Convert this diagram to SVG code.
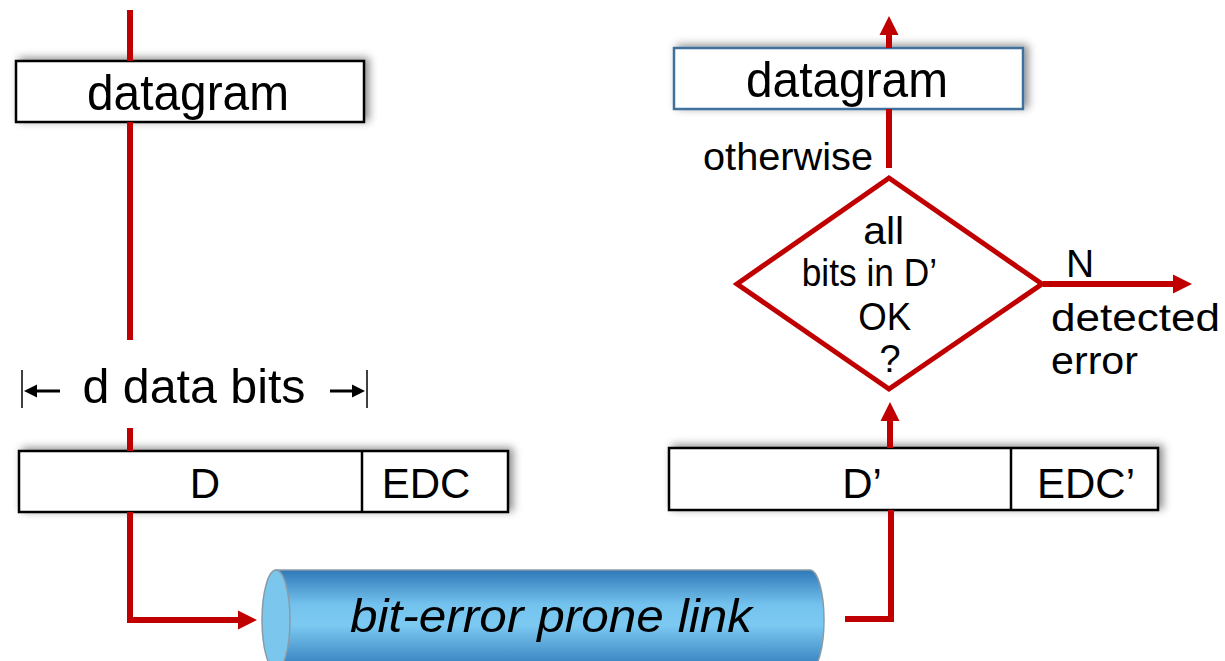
<svg xmlns="http://www.w3.org/2000/svg" width="1225" height="661" viewBox="0 0 1225 661">
<style>
text{font-family:"Liberation Sans",Arial,sans-serif;fill:#000}
.box{fill:#fff;stroke:#000;stroke-width:2.5}
.wire{fill:none;stroke:#C00000;stroke-width:6}
.dim{fill:none;stroke:#000;stroke-width:3}
.tick{fill:none;stroke:#000;stroke-width:1.5}
</style>
<defs>
<filter id="sh" x="-10%" y="-40%" width="125%" height="180%">
<feDropShadow dx="4" dy="-2" stdDeviation="4" flood-color="#000" flood-opacity="0.45"/>
</filter>
<marker id="ah" markerUnits="userSpaceOnUse" markerWidth="20" markerHeight="20" viewBox="0 -10 20 20" refX="0" refY="0" orient="auto">
<path d="M0,-9.5 L19,0 L0,9.5 Z" fill="#C00000"/>
</marker>
<marker id="bh" markerUnits="userSpaceOnUse" markerWidth="14" markerHeight="14" viewBox="0 -7 14 14" refX="0" refY="0" orient="auto">
<path d="M0,-6.5 L13,0 L0,6.5 Z" fill="#000"/>
</marker>
<linearGradient id="cyl" x1="0" y1="0" x2="0" y2="1">
<stop offset="0" stop-color="#2F78B8"/>
<stop offset="0.35" stop-color="#74C3EE"/>
<stop offset="0.55" stop-color="#7CCAF2"/>
<stop offset="1" stop-color="#2F78B8"/>
</linearGradient>
</defs>

<g id="datagram-send">
<rect class="box" x="16" y="61" width="348" height="61" filter="url(#sh)"/>
<text x="188" y="110" font-size="50" text-anchor="middle" textLength="202" lengthAdjust="spacingAndGlyphs">datagram</text>
</g>

<g id="d-data-bits">
<line class="tick" x1="22" y1="370" x2="22" y2="408"/>
<line class="tick" x1="367" y1="370" x2="367" y2="408"/>
<line class="dim" x1="60" y1="391" x2="37" y2="391" marker-end="url(#bh)"/>
<line class="dim" x1="330" y1="391" x2="352" y2="391" marker-end="url(#bh)"/>
<text x="194" y="403" font-size="48" text-anchor="middle" textLength="223" lengthAdjust="spacingAndGlyphs">d data bits</text>
</g>

<g id="frame-send">
<rect class="box" x="19" y="451" width="489" height="61" filter="url(#sh)"/>
<line x1="362" y1="451" x2="362" y2="512" stroke="#000" stroke-width="2.5"/>
<text x="205" y="498" font-size="42" text-anchor="middle">D</text>
<text x="426" y="498" font-size="42" text-anchor="middle">EDC</text>
</g>

<g id="link">
<path d="M276,570 H810 A14,50 0 0 1 810,670 H276 Z" fill="url(#cyl)" stroke="#8A9BA8" stroke-width="1.5"/>
<ellipse cx="276" cy="620" rx="14" ry="50" fill="#7AC6EC" stroke="#8A9BA8" stroke-width="1.5"/>
<text x="551" y="632" font-size="47" font-style="italic" text-anchor="middle" textLength="402" lengthAdjust="spacingAndGlyphs">bit-error prone link</text>
</g>

<g id="frame-recv">
<rect class="box" x="669" y="448" width="489" height="62" filter="url(#sh)"/>
<line x1="1011" y1="448" x2="1011" y2="510" stroke="#000" stroke-width="2.5"/>
<text x="862" y="498" font-size="42" text-anchor="middle">D’</text>
<text x="1086" y="498" font-size="42" text-anchor="middle">EDC’</text>
</g>

<g id="check">
<polygon points="889,178 1042,284 889,389 737,284" fill="#fff" stroke="#C00000" stroke-width="5" stroke-linejoin="miter"/>
<text font-size="38" text-anchor="middle">
<tspan x="889" y="244" textLength="41" lengthAdjust="spacingAndGlyphs">all</tspan>
<tspan x="874" y="286" textLength="134" lengthAdjust="spacingAndGlyphs">bits in D’</tspan>
<tspan x="890" y="330" textLength="53" lengthAdjust="spacingAndGlyphs">OK</tspan>
<tspan x="890" y="372">?</tspan>
</text>
</g>

<g id="datagram-recv">
<rect x="674" y="48" width="349" height="61" fill="#fff" stroke="#41719C" stroke-width="2.5" filter="url(#sh)"/>
<text x="847" y="97" font-size="50" text-anchor="middle" textLength="202" lengthAdjust="spacingAndGlyphs">datagram</text>
</g>

<g id="labels">
<text x="703" y="170" font-size="39" textLength="170" lengthAdjust="spacingAndGlyphs">otherwise</text>
<text x="1066" y="277" font-size="39">N</text>
<text x="1051" y="331" font-size="38" textLength="169" lengthAdjust="spacingAndGlyphs">detected</text>
<text x="1051" y="374" font-size="38" textLength="87" lengthAdjust="spacingAndGlyphs">error</text>
</g>

<g id="connectors">
<path class="wire" d="M130,10 V61"/>
<path class="wire" d="M130,122 V340"/>
<path class="wire" d="M130,428 V451"/>
<path class="wire" d="M130,512 V620 H238" marker-end="url(#ah)"/>
<path class="wire" d="M845,619 H891 V510"/>
<path class="wire" d="M890,448 V421" marker-end="url(#ah)"/>
<path class="wire" d="M889,168 V109"/>
<path class="wire" d="M889,48 V35" marker-end="url(#ah)"/>
<path class="wire" d="M1043,284 H1173" marker-end="url(#ah)"/>
</g>
</svg>
